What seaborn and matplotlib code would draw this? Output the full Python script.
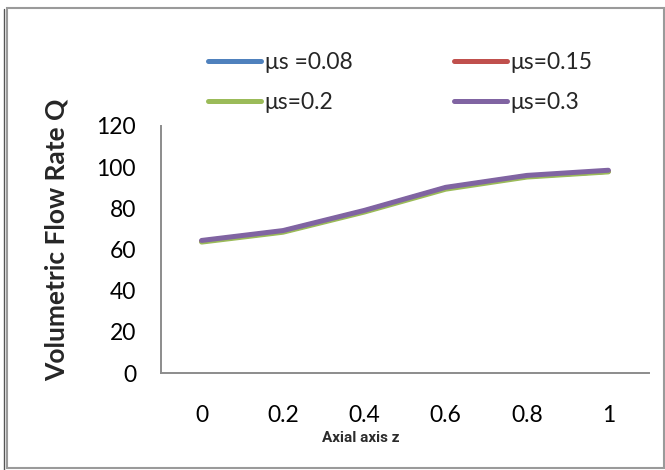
import matplotlib
matplotlib.use("Agg")
import matplotlib.pyplot as plt
from matplotlib.patches import Rectangle
from matplotlib.lines import Line2D
import seaborn as sns
import pandas as pd

# Axial positions along the vessel (category labels)
z_labels = ["0", "0.2", "0.4", "0.6", "0.8", "1"]

# Volumetric flow rate Q for each slip parameter
q_mu_008 = [64.0, 68.8, 78.6, 89.8, 95.6, 98.0]
q_mu_015 = [64.0, 68.8, 78.6, 89.8, 95.6, 98.0]
q_mu_02 = [63.6, 68.4, 78.2, 89.3, 95.2, 97.7]
q_mu_03 = [64.4, 69.2, 79.0, 90.2, 96.0, 98.5]

series_names = ["μs =0.08", "μs=0.15", "μs=0.2", "μs=0.3"]
series_values = [q_mu_008, q_mu_015, q_mu_02, q_mu_03]
series_colors = ["#4F81BD", "#C0504D", "#9BBB59", "#8064A2"]

rows = []
for name, vals in zip(series_names, series_values):
    for i, (lab, v) in enumerate(zip(z_labels, vals)):
        rows.append({"pos": i, "z": lab, "Q": v, "series": name})
df = pd.DataFrame(rows)

sns.set_theme(style="white")
plt.rcParams["font.family"] = ["Lato", "DejaVu Sans"]

fig = plt.figure(figsize=(6.65, 4.70), dpi=100)
ax = fig.add_axes([161 / 665, 1 - 373 / 470, 488 / 665, 247 / 470])

sns.lineplot(
    data=df, x="pos", y="Q", hue="series",
    hue_order=series_names,
    palette=dict(zip(series_names, series_colors)),
    linewidth=3.6, ax=ax, legend=False, sort=False,
)
for ln in ax.lines:
    ln.set_solid_capstyle("round")
    ln.set_solid_joinstyle("round")

ax.set_xlim(-0.5, len(z_labels) - 0.5)
ax.set_ylim(0, 120)
ax.set_yticks(range(0, 121, 20))
ax.set_xticks(range(len(z_labels)))
ax.set_xticklabels(z_labels)
ax.set_xlabel("")
ax.set_ylabel("")
ax.tick_params(axis="both", length=0, labelsize=16.5, colors="black")
ax.tick_params(axis="x", pad=23)
ax.tick_params(axis="y", pad=18)
for side in ["top", "right"]:
    ax.spines[side].set_visible(False)
for side in ["left", "bottom"]:
    ax.spines[side].set_color("#8c8c8c")
    ax.spines[side].set_linewidth(1.4)

# Legend in two rows above the plot area
handles = [Line2D([0], [0], color=c, lw=3.6, solid_capstyle="round") for c in series_colors]
order = [0, 2, 1, 3]
fig.legend(
    [handles[i] for i in order], [series_names[i] for i in order],
    ncol=2, loc="upper left", bbox_to_anchor=(197 / 665, 1 - 41 / 470),
    frameon=False, fontsize=16.5, handlelength=2.3, handletextpad=0.15,
    columnspacing=4.45, labelspacing=0.8, borderpad=0,
)

fig.text(57 / 665, 1 - 240 / 470, "Volumetric Flow Rate Q", rotation=90,
         ha="center", va="center", fontsize=19, fontweight="bold")
fig.text(361 / 665, 1 - 438 / 470, "Axial axis z", ha="center", va="center",
         fontsize=11, family=["Liberation Sans Narrow", "Roboto"],
         fontweight="bold", color="#2b2b2b")

# Chart frame
fig.patches.append(Rectangle((7 / 665, 2 / 470), 657 / 665, 460 / 470,
                             transform=fig.transFigure, fill=False,
                             edgecolor="#9a9a9a", linewidth=1.5))
fig.lines.append(Line2D([3.5 / 665, 3.5 / 665], [0, 1 - 9 / 470],
                        transform=fig.transFigure, color="#555555", linewidth=1.0))

fig.savefig("out.png", dpi=100)
